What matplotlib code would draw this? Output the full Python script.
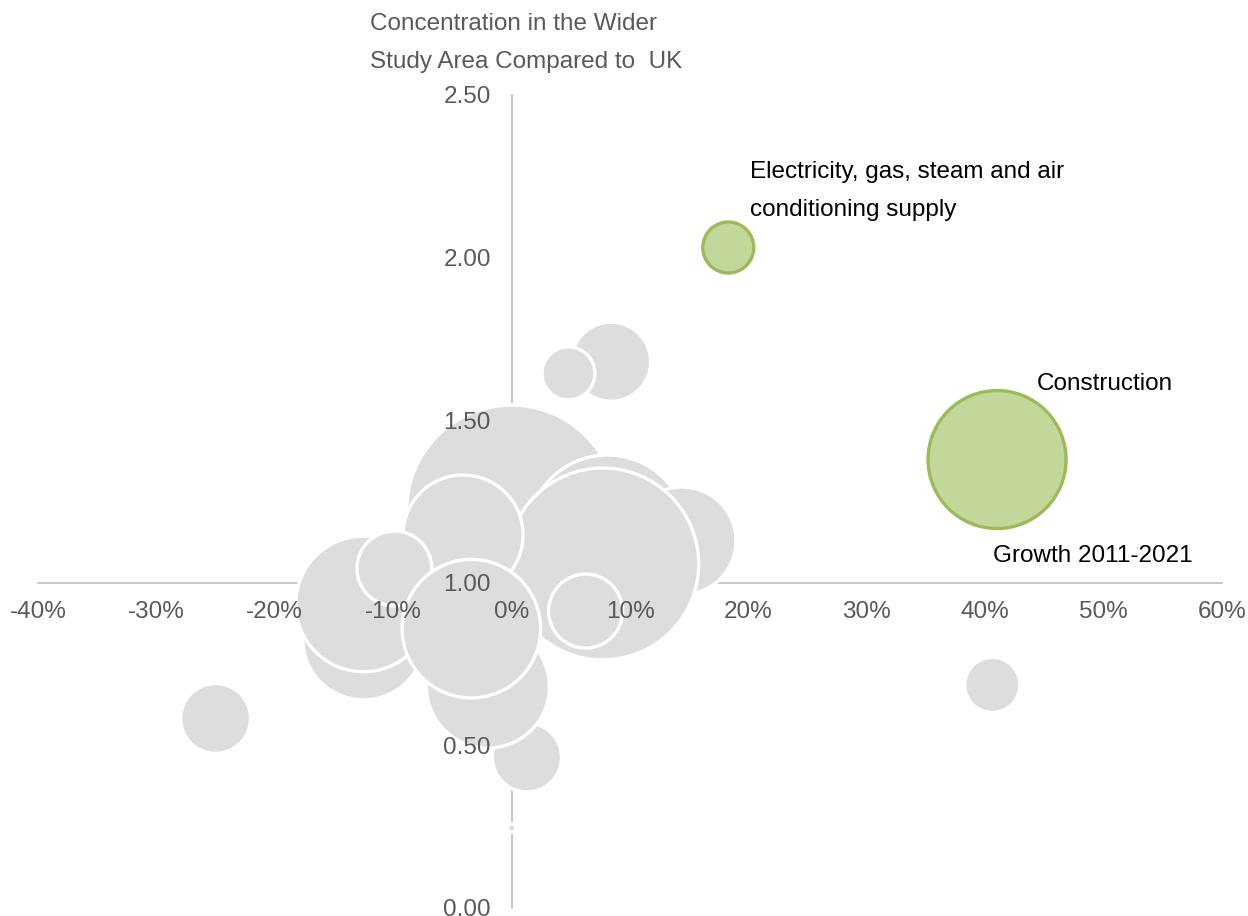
import matplotlib
matplotlib.use("Agg")
import matplotlib.pyplot as plt
from matplotlib.ticker import FuncFormatter

# データ: 成長率 (x), 英国比の集中度 (y), バブルの大きさ (雇用規模の相対値)
growth = [0.000, 0.081, 0.144, 0.077, 0.0625, 0.084, 0.048, -0.125, -0.125,
          -0.041, -0.099, 0.013, -0.020, -0.034, -0.250, 0.406, 0.000]
concentration = [1.224, 1.147, 1.129, 1.058, 0.913, 1.680, 1.644, 0.827, 0.935,
                 1.147, 1.044, 0.463, 0.681, 0.859, 0.583, 0.686, 0.246]
bubble_size = [110, 64, 29, 92, 13.7, 15.6, 7.0, 37, 46,
               36, 14, 11.9, 37.8, 48, 12.2, 7.6, 0.18]

# 強調するセクター
hl_names = ["Electricity, gas, steam and air\nconditioning supply", "Construction"]
hl_growth = [0.183, 0.410]
hl_concentration = [2.031, 1.379]
hl_size = [6.5, 47.6]

x_ticks = [-0.4, -0.3, -0.2, -0.1, 0.0, 0.1, 0.2, 0.3, 0.4, 0.5, 0.6]
y_ticks = [0.0, 0.5, 1.0, 1.5, 2.0, 2.5]

plt.rcParams['font.family'] = ['Liberation Sans', 'DejaVu Sans']
plt.rcParams['axes.unicode_minus'] = False

W, H = 1248, 916
FS = 17.5
fig = plt.figure(figsize=(W / 100, H / 100), dpi=100)
ax = fig.add_axes([38 / W, 8 / H, (1222 - 38) / W, (908 - 95) / H])
ax.set_xlim(-0.4, 0.6)
ax.set_ylim(0, 2.5)

# バブルの面積を値に比例させる
scale = 207.36
ax.scatter(growth, concentration, s=[v * scale for v in bubble_size],
           color='#dddddd', edgecolor='white', linewidth=2.4, zorder=2)
ax.scatter(hl_growth, hl_concentration, s=[v * scale for v in hl_size],
           color='#c4d79b', edgecolor='#9bbb59', linewidth=2.4, zorder=3)

# 軸は x=0, y=1.0 で交差
ax.spines['left'].set_position(('data', 0))
ax.spines['bottom'].set_position(('data', 1.0))
ax.spines['right'].set_visible(False)
ax.spines['top'].set_visible(False)
for side in ['left', 'bottom']:
    ax.spines[side].set_color('#bfbfbf')
    ax.spines[side].set_linewidth(1.2)
    ax.spines[side].set_zorder(0.5)
ax.set_axisbelow(False)
ax.patch.set_visible(False)

ax.set_xticks(x_ticks)
ax.set_yticks(y_ticks)
ax.xaxis.set_major_formatter(FuncFormatter(lambda v, p: f"{v * 100:.0f}%"))
ax.yaxis.set_major_formatter(FuncFormatter(lambda v, p: f"{v:.2f}"))
ax.tick_params(axis='x', length=0, pad=13, labelsize=FS, labelcolor='#595959')
ax.tick_params(axis='y', length=0, pad=15, labelsize=FS, labelcolor='#595959')
for lbl in ax.get_xticklabels() + ax.get_yticklabels():
    lbl.set_clip_on(False)

fig.text(370 / W, 1 - 13 / H, "Concentration in the Wider\nStudy Area Compared to  UK",
         fontsize=FS, color='#595959', ha='left', va='top', linespacing=1.92)
fig.text(750 / W, 1 - 161 / H, hl_names[0], fontsize=FS, color='black',
         ha='left', va='top', linespacing=1.92)
fig.text(1037 / W, 1 - 390 / H, hl_names[1], fontsize=FS, color='black',
         ha='left', va='baseline')
fig.text(993 / W, 1 - 562 / H, "Growth 2011-2021", fontsize=FS, color='black',
         ha='left', va='baseline')

fig.savefig('out.png', dpi=100)
